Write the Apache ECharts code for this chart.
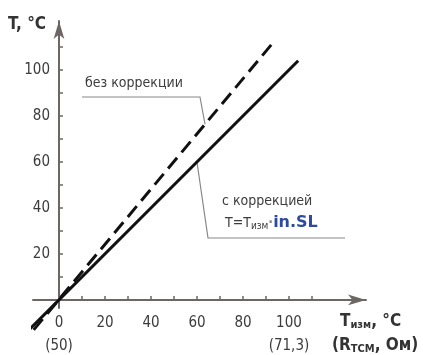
<!DOCTYPE html>
<html>
<head>
<meta charset="utf-8">
<script src="https://cdn.jsdelivr.net/npm/echarts@6/dist/echarts.min.js"></script>
<style>
  html, body { margin: 0; padding: 0; background: #fff; }
  #chart { width: 423px; height: 355px; }
</style>
</head>
<body>
<div id="chart"></div>
<script>
// axis ticks and labels
const xTicks = [10, 20, 30, 40, 50, 60, 70, 80, 90, 100, 110]
const xLabels = [0, 20, 40, 60, 80, 100]
const xSubLabels = { 0: '(50)', 100: '(71,3)' }
const yTicks = [10, 20, 30, 40, 50, 60, 70, 80, 90, 100, 110]
const yLabels = [20, 40, 60, 80, 100]

// с коррекцией: T = Tизм
const corrX = [-13, 104]
const corrY = [-13, 104]
// без коррекции
const rawX = [-11, 94]
const rawY = [-13, 113]

const FONT = '"Liberation Sans Narrow", "DejaVu Sans Condensed", "Roboto Condensed", sans-serif'
const AXIS = '#6e6664'
const TEXT = '#3c3c3c'

const chart = echarts.init(document.getElementById('chart'))

chart.setOption({
  animation: false,
  textStyle: { fontFamily: FONT },
  grid: { left: 33, right: 57, top: 21, bottom: 47, outerBoundsMode: 'none', containLabel: false },
  xAxis: {
    type: 'value', min: -11.3, max: 133.5,
    splitLine: { show: false },
    axisLine: { onZero: true, lineStyle: { color: AXIS, width: 2 }, symbol: ['none', 'arrow'], symbolSize: [8, 18] },
    axisTick: { inside: true, length: 4, customValues: xTicks, lineStyle: { color: AXIS, width: 1.5 } },
    axisLabel: {
      customValues: xLabels, margin: 4, color: TEXT, fontSize: 15, lineHeight: 23, fontFamily: FONT,
      verticalAlign: 'top',
      formatter: v => xSubLabels[v] ? v + '\n' + xSubLabels[v] : String(v)
    }
  },
  yAxis: {
    type: 'value', min: -3.5, max: 121.3,
    splitLine: { show: false },
    axisLine: { onZero: true, lineStyle: { color: AXIS, width: 2 }, symbol: ['none', 'arrow'], symbolSize: [8, 18] },
    axisTick: { inside: true, length: 4, customValues: yTicks, lineStyle: { color: AXIS, width: 1.5 } },
    axisLabel: { customValues: yLabels, margin: -17, color: TEXT, fontSize: 15, fontFamily: FONT }
  },
  series: [
    {
      type: 'line', clip: false, symbol: 'none',
      data: corrX.map((x, i) => [x, corrY[i]]),
      lineStyle: { color: '#111', width: 3 }
    },
    {
      type: 'line', clip: false, symbol: 'none',
      data: rawX.map((x, i) => [x, rawY[i]]),
      lineStyle: { color: '#111', width: 3, type: [14, 7] }
    }
  ]
})

// leader lines end on the data lines
const rawPt = chart.convertToPixel({ seriesIndex: 1 }, [63.5, -13 + 1.2 * 74.5])
const corrPt = chart.convertToPixel({ seriesIndex: 0 }, [60, 60])

chart.setOption({
  graphic: [
    { type: 'text', left: 8, top: 16, style: { text: 'T, °C', font: 'bold 17px ' + FONT, fill: '#333' } },
    { type: 'text', left: 340, top: 313, style: {
      text: 'T{s|изм}, °C', font: 'bold 17px ' + FONT, fill: '#333',
      rich: { s: { font: 'bold 11px ' + FONT, fill: '#333', padding: [8, 0, 0, 0] } }
    } },
    { type: 'text', left: 332, top: 337, style: {
      text: '(R{s|ТСМ}, Ом)', font: 'bold 17px ' + FONT, fill: '#333',
      rich: { s: { font: 'bold 11px ' + FONT, fill: '#333', padding: [8, 0, 0, 0] } }
    } },
    { type: 'text', left: 85, top: 76, style: { text: 'без коррекции', font: '14px ' + FONT, fill: TEXT } },
    { type: 'polyline', shape: { points: [[82, 97], [200, 97], rawPt] }, style: { stroke: '#888', lineWidth: 1.2, fill: null } },
    { type: 'text', left: 222, top: 194, style: { text: 'с коррекцией', font: '14px ' + FONT, fill: TEXT } },
    { type: 'text', left: 225, top: 215, style: {
      text: 'T=T{s|изм}{d|·}{b|in.SL}', font: '14px ' + FONT, fill: TEXT,
      rich: {
        s: { font: '10px ' + FONT, fill: TEXT, padding: [6, 0, 0, 0] },
        d: { font: 'bold 14px ' + FONT, fill: '#888' },
        b: { font: 'bold 16px "DejaVu Sans", sans-serif', fill: '#2e4a9e' }
      }
    } },
    { type: 'polyline', shape: { points: [corrPt, [208, 238], [345, 238]] }, style: { stroke: '#888', lineWidth: 1.2, fill: null } }
  ]
})
</script>
</body>
</html>
